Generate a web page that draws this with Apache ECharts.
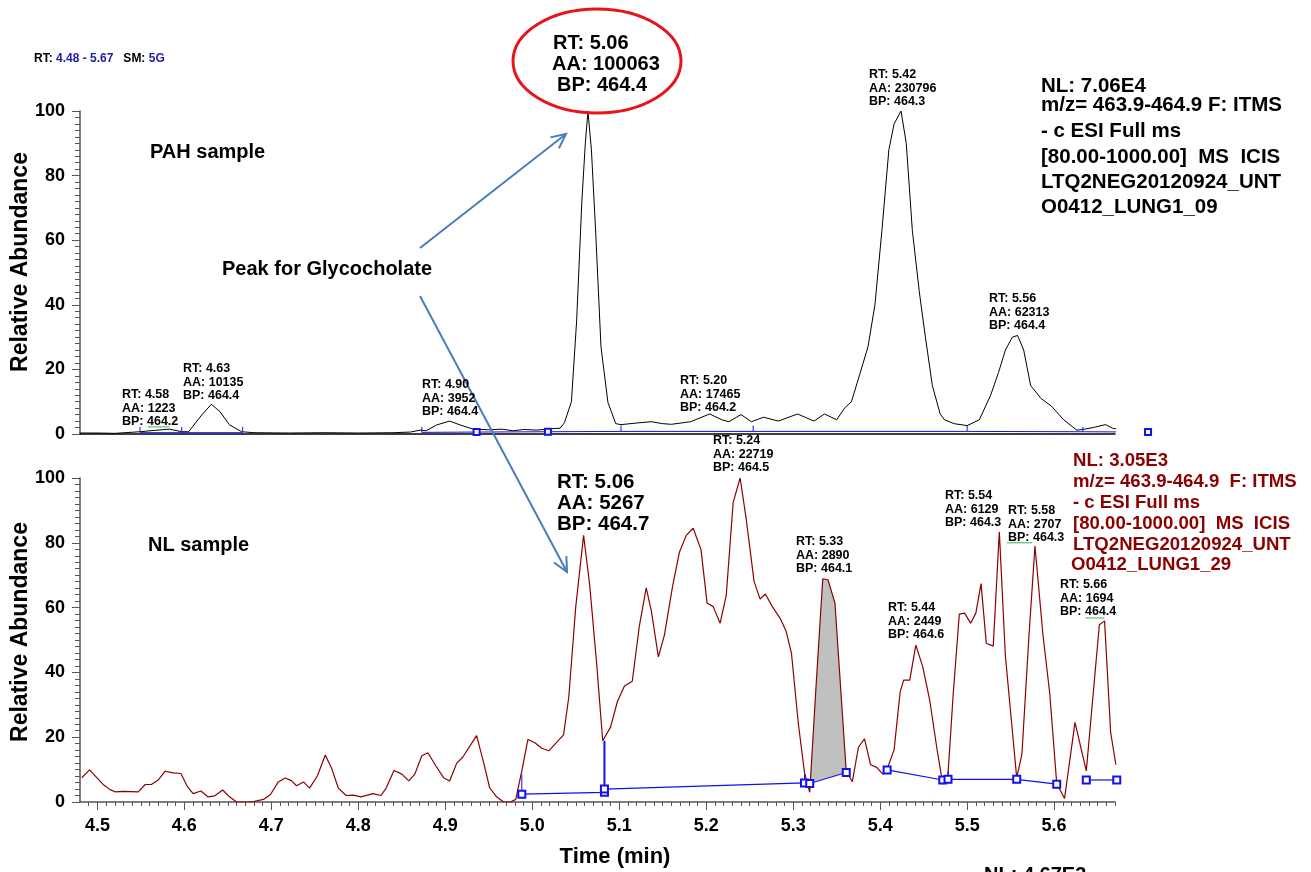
<!DOCTYPE html>
<html><head><meta charset="utf-8">
<script src="https://cdn.jsdelivr.net/npm/echarts@6/dist/echarts.min.js"></script>
<style>html,body{margin:0;padding:0;background:#fff}#c{width:1311px;height:872px}</style>
</head><body><div id="c"></div>
<script>
// ---------- DATA ----------
const xTickLabels = [4.5, 4.6, 4.7, 4.8, 4.9, 5.0, 5.1, 5.2, 5.3, 5.4, 5.5, 5.6];
const yTickLabels = [0, 20, 40, 60, 80, 100];

// PAH sample (top, black)
const pahTimes = [4.480,4.500,4.520,4.549,4.565,4.583,4.597,4.605,4.609,4.620,4.631,4.641,4.652,4.666,4.680,4.720,4.760,4.800,4.840,4.860,4.871,4.878,4.890,4.905,4.917,4.932,4.950,4.965,4.978,4.990,5.005,5.020,5.032,5.037,5.045,5.051,5.057,5.061,5.064,5.068,5.073,5.079,5.087,5.096,5.102,5.120,5.137,5.150,5.160,5.182,5.204,5.218,5.226,5.240,5.252,5.266,5.283,5.305,5.324,5.336,5.350,5.359,5.367,5.376,5.386,5.394,5.402,5.410,5.416,5.424,5.430,5.437,5.445,5.452,5.460,5.469,5.474,5.485,5.500,5.514,5.527,5.536,5.544,5.552,5.558,5.565,5.573,5.585,5.597,5.611,5.626,5.633,5.645,5.659,5.668,5.672];
const pahValues = [0.3,0.3,0.2,0.7,1.1,1.5,0.7,0.7,2.1,5.9,9.2,6.9,2.8,0.7,0.4,0.3,0.4,0.3,0.4,0.6,1.2,1.0,2.8,4.0,2.8,1.5,1.3,1.5,1.0,1.4,1.2,1.6,1.8,3.5,10,35,72,90,100,88,62,27,9.8,3.2,2.9,3.4,3.8,3.2,3.0,3.8,6.2,4.4,3.8,6.0,3.8,5.2,4.0,6.2,4.0,6.2,4.4,8,10,18,27,40,63,88,96,100,90,63,44,30,15,6.2,4.4,3.2,2.6,4.4,12,19,26,30,30.5,26,15,11,8.6,4.4,1.2,1.4,2.0,2.9,1.7,1.6];

// NL sample (bottom, dark red)
const nlTimes = [4.482,4.491,4.507,4.514,4.521,4.529,4.547,4.555,4.562,4.570,4.578,4.587,4.596,4.603,4.610,4.619,4.627,4.635,4.644,4.652,4.660,4.677,4.691,4.699,4.708,4.716,4.723,4.729,4.737,4.744,4.753,4.762,4.769,4.777,4.786,4.794,4.803,4.817,4.826,4.832,4.841,4.850,4.858,4.865,4.873,4.880,4.889,4.898,4.905,4.913,4.920,4.936,4.944,4.951,4.959,4.967,4.975,4.981,4.988,4.995,5.003,5.011,5.019,5.028,5.036,5.042,5.050,5.059,5.066,5.074,5.081,5.090,5.098,5.106,5.115,5.123,5.131,5.137,5.145,5.152,5.161,5.169,5.177,5.185,5.194,5.201,5.208,5.216,5.223,5.231,5.239,5.246,5.255,5.262,5.268,5.276,5.285,5.292,5.298,5.306,5.313,5.319,5.326,5.334,5.340,5.348,5.361,5.368,5.375,5.382,5.389,5.396,5.403,5.408,5.416,5.423,5.427,5.434,5.441,5.449,5.457,5.465,5.472,5.478,5.484,5.491,5.497,5.504,5.510,5.516,5.522,5.530,5.537,5.544,5.557,5.563,5.571,5.578,5.587,5.595,5.603,5.612,5.624,5.637,5.652,5.658,5.665,5.671];
const nlValues = [7.5,9.9,5.3,3.9,3.1,3.3,3.1,5.4,5.4,6.8,9.5,9.0,8.8,5.0,2.6,3.4,1.6,1.9,3.7,1.6,0,0,0.8,2.3,6.2,7.4,6.6,5.0,6.2,4.3,8.1,14.5,10.6,4.3,2.0,2.1,1.6,2.6,2.0,4.3,9.7,8.6,6.5,8.6,14.3,15.2,11.2,7.5,6.5,11.9,13.8,20.5,12.2,4.4,1.6,0,0,0.8,9.6,19.3,18.3,16.6,15.8,18.4,20.7,32.4,60.3,82.3,67,42.8,18.9,23.1,31.1,35.8,37.3,54.1,66.1,58.8,44.8,51.6,66.1,76.9,82.3,84.5,77.9,61.4,60.3,55.2,63.7,92.5,100,87.3,68.1,62.6,64.2,60.3,56.7,52.6,45.9,24,9.1,3.0,34.5,68.9,68.6,61.4,9.4,6.3,16.9,19.5,11.5,10.7,8.6,10.2,16.1,34,37.6,37.6,48.4,41.7,31.4,16.9,5.5,8.6,33.4,58,58.3,55.2,58.3,67.4,49,48.1,83.4,45,7.5,14.8,51,79,52,33.4,5.7,1.1,24.6,9.6,54.7,55.9,21.5,11.5];

// integration baselines (blue)
const pahBaseTimes = [[4.549,4.597,4.667],[4.873,4.936,5.018,5.102,5.254,5.500,5.633,5.708]];
const pahBaseValues = [[0.4,0.4,0.4],[0.5,0.6,0.7,0.8,0.8,0.8,0.7,0.6]];
const pahBaseSquares = [[0,0,0],[0,1,1,0,0,0,0,1]];
const pahTickTimes = [4.549,4.597,4.667,4.873,5.102,5.254,5.500,5.633];
const pahTickLow = [0.4,0.4,0.4,0.5,0.8,0.8,0.8,0.7];
const pahTickHigh = [2.2,2.2,2.2,2.2,2.6,2.6,2.6,2.2];

const nlBaseTimes = [[4.988,5.083,5.083,5.313,5.319,5.361],[5.408,5.472,5.478,5.557,5.603],[5.637,5.672]];
const nlBaseValues = [[2.4,3.0,4.0,5.9,5.7,9.1],[9.9,6.8,7.0,7.0,5.5],[6.8,6.8]];
const nlTickTimes = [4.988,5.083,5.313,5.478,5.672];
const nlTickLow = [2.4,4.0,5.9,7.0,6.8];
const nlTickHigh = [8.5,18.9,8.5,9.5,11.0];
const nlTickWidth = [1,2,1,1,1];

// shaded peak (RT 5.33)
const shadeStart = 5.319, shadeEnd = 5.361;

// green apex marks
const pahGreenTimes = [4.558,4.583], pahGreenValue = 2.2;
const nlGreenTimes = [[5.5455,5.575],[5.636,5.658]], nlGreenValues = [80,56.8];

// ---------- BUILD ----------
const FONT = '"Liberation Sans", Arial, Helvetica, sans-serif';
const pair = (ts, vs) => ts.map((t, i) => [t, vs[i]]);
const BLUE = '#1010f0';
const RED = '#8b0000';
const xMin = 4.48, xMax = 5.67;

const minorX = [];
for (let k = 449; k <= 567; k++) minorX.push(+(k / 100).toFixed(2));

const series = [];
series.push({type:'line', xAxisIndex:0, yAxisIndex:0, data:pair(pahTimes,pahValues), showSymbol:false, symbol:'none', lineStyle:{color:'#000', width:1}, z:3, silent:true});
pahBaseTimes.forEach((ts, s) => {
  series.push({type:'line', xAxisIndex:0, yAxisIndex:0, clip:false, silent:true, z:4,
    data: ts.map((t,i)=>({value:[t,pahBaseValues[s][i]], symbol: pahBaseSquares[s][i] ? 'emptyRect':'none'})),
    symbolSize:6, showAllSymbol:true, itemStyle:{color:BLUE, borderColor:BLUE, borderWidth:1}, lineStyle:{color:BLUE, width:1}});
});
pahTickTimes.forEach((t,i)=>{
  series.push({type:'line', xAxisIndex:0, yAxisIndex:0, silent:true, z:4, symbol:'none', data:[[t,pahTickLow[i]],[t,pahTickHigh[i]]], lineStyle:{color:BLUE,width:1}});
});
series.push({type:'line', xAxisIndex:0, yAxisIndex:0, silent:true, z:4, symbol:'none', data:pahGreenTimes.map(t=>[t,pahGreenValue]), lineStyle:{color:'#3cb44b',width:1}});

const shadePoly = [];
nlTimes.forEach((t,i)=>{ if (t >= shadeStart && t <= shadeEnd) shadePoly.push([t, nlValues[i]]); });
{
  const bt = nlBaseTimes[0], bv = nlBaseValues[0];
  const iE = bt.indexOf(shadeEnd), iS = bt.indexOf(shadeStart);
  shadePoly.push([bt[iE], bv[iE]]); shadePoly.push([bt[iS], bv[iS]]);
}
series.push({type:'custom', xAxisIndex:1, yAxisIndex:1, silent:true, z:2, data:[[5.34, 30]],
  renderItem:(params, api)=>({type:'polygon', shape:{points:shadePoly.map(p=>api.coord(p))}, style:{fill:'#c0c0c0', stroke:null}})});
series.push({type:'line', xAxisIndex:1, yAxisIndex:1, data:pair(nlTimes,nlValues), showSymbol:false, symbol:'none', lineStyle:{color:RED, width:1.2}, z:3, silent:true});
nlBaseTimes.forEach((ts, s) => {
  series.push({type:'line', xAxisIndex:1, yAxisIndex:1, clip:false, silent:true, z:4,
    data: pair(ts, nlBaseValues[s]), symbol:'emptyRect', symbolSize:7, showAllSymbol:true,
    itemStyle:{color:BLUE, borderColor:BLUE, borderWidth:1}, lineStyle:{color:BLUE, width:1.2}});
});
nlTickTimes.forEach((t,i)=>{
  series.push({type:'line', xAxisIndex:1, yAxisIndex:1, silent:true, z:4, symbol:'none', data:[[t,nlTickLow[i]],[t,nlTickHigh[i]]], lineStyle:{color:BLUE,width:nlTickWidth[i]}});
});
nlGreenTimes.forEach((ts,i)=>{
  series.push({type:'line', xAxisIndex:1, yAxisIndex:1, silent:true, z:4, symbol:'none', data:ts.map(t=>[t,nlGreenValues[i]]), lineStyle:{color:'#3cb44b',width:1}});
});

const axisGray = '#555';
const yAxisCommon = {type:'value', min:0, max:100, interval:20,
  axisLine:{show:true, lineStyle:{color:axisGray, width:1.5}},
  axisTick:{show:true, length:8, lineStyle:{color:axisGray}},
  minorTick:{show:true, splitNumber:10, length:5, lineStyle:{color:axisGray}},
  splitLine:{show:false},
  axisLabel:{fontFamily:FONT, fontWeight:'bold', fontSize:18, color:'#000', margin:15,
    formatter: v => yTickLabels.includes(v) ? String(v) : ''}};

// ---------- TEXT / DECORATION ----------
const graphic = [];
function T(x, y, text, size, color, extra, align) {
  graphic.push(Object.assign({type:'text', x:x, y:y, silent:true, z:10,
    style:{text:text, fontFamily:FONT, fontWeight:'bold', fontSize:size, fill:color||'#000', align:align||'left', verticalAlign:'middle'}}, extra||{}));
}
function multi(x, yFirst, lines, size, lh, color) {
  lines.forEach((l,i)=>T(x, yFirst + i*lh, l, size, color));
}
graphic.push({type:'text', x:34, y:59, silent:true, style:{text:'{a|RT:} {b|4.48 - 5.67}   {a|SM:} {b|5G}', fontFamily:FONT, fontWeight:'bold', fontSize:12, verticalAlign:'middle',
  rich:{a:{fill:'#000', fontFamily:FONT, fontWeight:'bold', fontSize:12}, b:{fill:'#1c1ca8', fontFamily:FONT, fontWeight:'bold', fontSize:12}}}});
T(150, 152, 'PAH sample', 20);
T(148, 545, 'NL sample', 20);
T(222, 269, 'Peak for Glycocholate', 20);
T(21, 262, 'Relative Abundance', 23, '#000', {rotation:Math.PI/2}, 'center');
T(21, 632, 'Relative Abundance', 23, '#000', {rotation:Math.PI/2}, 'center');
T(615, 857, 'Time (min)', 22, '#000', null, 'center');
T(984, 875, 'NL: 4.67E3', 20);

const small = [
  [122, 395, ['RT: 4.58','AA: 1223','BP: 464.2']],
  [183, 369, ['RT: 4.63','AA: 10135','BP: 464.4']],
  [422, 385, ['RT: 4.90','AA: 3952','BP: 464.4']],
  [680, 381, ['RT: 5.20','AA: 17465','BP: 464.2']],
  [713, 441, ['RT: 5.24','AA: 22719','BP: 464.5']],
  [869, 75,  ['RT: 5.42','AA: 230796','BP: 464.3']],
  [989, 299, ['RT: 5.56','AA: 62313','BP: 464.4']],
  [796, 542, ['RT: 5.33','AA: 2890','BP: 464.1']],
  [888, 608, ['RT: 5.44','AA: 2449','BP: 464.6']],
  [945, 496, ['RT: 5.54','AA: 6129','BP: 464.3']],
  [1008, 511, ['RT: 5.58','AA: 2707','BP: 464.3']],
  [1060, 585, ['RT: 5.66','AA: 1694','BP: 464.4']]
];
small.forEach(a => multi(a[0], a[1], a[2], 12.5, 13.5, '#000'));

multi(557, 482, ['RT: 5.06','AA: 5267','BP: 464.7'], 20.5, 21, '#000');
T(553, 43, 'RT: 5.06', 20); T(552, 64, 'AA: 100063', 20); T(557, 85, 'BP: 464.4', 20);
graphic.push({type:'ellipse', silent:true, z:9, shape:{cx:597, cy:61, rx:84, ry:52}, style:{fill:'none', stroke:'#e8141b', lineWidth:3}});

const blk = ['NL: 7.06E4','m/z= 463.9-464.9 F: ITMS','- c ESI Full ms','[80.00-1000.00]  MS  ICIS','LTQ2NEG20120924_UNT','O0412_LUNG1_09'];
const blkY = [86,105,131,157,182,207];
blk.forEach((l,i)=>T(1041, blkY[i], l, 20.5, '#000'));
const red = ['NL: 3.05E3','m/z= 463.9-464.9  F: ITMS','- c ESI Full ms','[80.00-1000.00]  MS  ICIS','LTQ2NEG20120924_UNT','O0412_LUNG1_29'];
const redY = [461,482,503,524,545,565];
red.forEach((l,i)=>T(i===5?1071:1073, redY[i], l, 18.6, RED));

function arrow(x1,y1,x2,y2){
  const c = '#4a7ebb';
  graphic.push({type:'line', silent:true, z:8, shape:{x1,y1,x2,y2}, style:{stroke:c, lineWidth:2}});
  const ang = Math.atan2(y2-y1, x2-x1), L = 16, a = 0.45;
  const p1 = [x2 - L*Math.cos(ang-a), y2 - L*Math.sin(ang-a)];
  const p2 = [x2 - L*Math.cos(ang+a), y2 - L*Math.sin(ang+a)];
  graphic.push({type:'polyline', silent:true, z:8, shape:{points:[p1,[x2,y2],p2]}, style:{stroke:c, lineWidth:2, fill:null}});
}
arrow(420, 248, 566, 134);
arrow(420, 296, 567, 572);

const option = {
  animation:false,
  backgroundColor:'#fff',
  grid:[{left:80, top:111, width:1035, height:323}, {left:80, top:478, width:1035, height:324}],
  xAxis:[
    {type:'value', gridIndex:0, position:'bottom', min:xMin, max:xMax, axisLine:{show:true, lineStyle:{color:'#000', width:1.5}}, axisTick:{show:false}, axisLabel:{show:false}, splitLine:{show:false}},
    {type:'value', gridIndex:1, position:'bottom', min:xMin, max:xMax, axisLine:{show:true, lineStyle:{color:axisGray, width:1.5}},
      axisTick:{show:true, length:8, customValues:xTickLabels, lineStyle:{color:axisGray}},
      axisLabel:{show:true, customValues:xTickLabels, fontFamily:FONT, fontWeight:'bold', fontSize:18, color:'#000', margin:15, formatter:v=>v.toFixed(1)},
      splitLine:{show:false}},
    {type:'value', gridIndex:1, position:'bottom', offset:0, min:xMin, max:xMax, axisLine:{show:false}, axisTick:{show:true, length:4, customValues:minorX, lineStyle:{color:axisGray}}, axisLabel:{show:false}, splitLine:{show:false}}
  ],
  yAxis:[Object.assign({gridIndex:0}, yAxisCommon), Object.assign({gridIndex:1}, yAxisCommon)],
  series: series,
  graphic: graphic
};
const chart = echarts.init(document.getElementById('c'), null, {renderer:'canvas'});
chart.setOption(option);
</script>
</body></html>
